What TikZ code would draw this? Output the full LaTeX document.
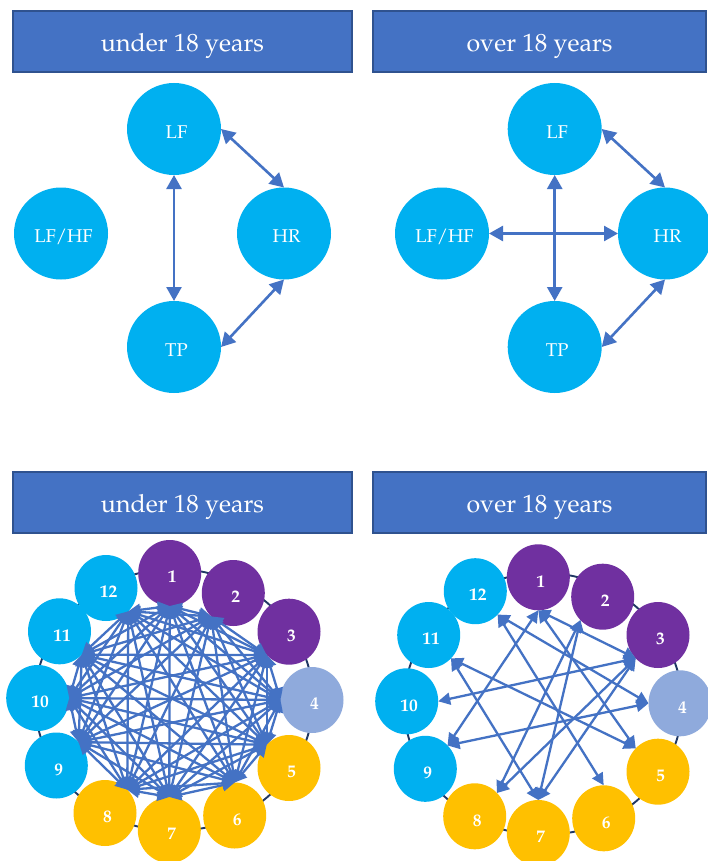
\documentclass[tikz,border=0pt]{standalone}
\usepackage[T1]{fontenc}
\usepackage{mathpazo}
\usetikzlibrary{arrows.meta,shapes.geometric}

\definecolor{hdrfill}{HTML}{4472C4}
\definecolor{hdrline}{HTML}{2F528F}
\definecolor{linkblue}{HTML}{4472C4}
\definecolor{cyanfill}{HTML}{00B0F0}
\definecolor{purplefill}{HTML}{7030A0}
\definecolor{goldfill}{HTML}{FFC000}
\definecolor{palefill}{HTML}{8FAADC}
\definecolor{ringline}{HTML}{203864}

\begin{document}
\begin{tikzpicture}[x=1pt,y=-1pt,
  header/.style={draw=hdrline, line width=2pt, fill=hdrfill, text=white,
    minimum height=61pt, inner sep=0pt, text height=20.4pt, text depth=0pt,
    font=\fontsize{25}{30}\selectfont},
  bignode/.style={ellipse, fill=cyanfill, minimum width=94pt, minimum height=92pt,
    inner sep=0pt, outer sep=0pt, text=white, text height=18.6pt, text depth=0pt,
    execute at begin node={\hspace*{5pt}},
    font=\fontsize{18.5}{22}\selectfont},
  bigarrow/.style={draw=linkblue, line width=2.6pt,
    {Triangle[length=14pt,width=15pt]}-{Triangle[length=14pt,width=15pt]}},
  ringnode/.style={ellipse, minimum width=63pt, minimum height=66pt,
    inner sep=0pt, outer sep=0pt, text=white, text height=19.4pt, text depth=0pt,
    execute at begin node={\hspace*{5pt}},
    font=\bfseries\fontsize{17.5}{21}\selectfont},
  ring/.style={draw=ringline, line width=1.9pt},
  smallarrow/.style={draw=linkblue, line width=2.3pt,
    {Triangle[length=12pt,width=12pt]}-{Triangle[length=12pt,width=12pt]}},
]
\useasboundingbox (0,0) rectangle (707,861);
\fill[white] (0,0) rectangle (707,861);

% ---- header bars ----
\node[header, minimum width=339pt] (hTL) at (182.5,41.5) {under 18 years};
\node[header, minimum width=333pt] (hTR) at (539.5,41.5) {over 18 years};
\node[header, minimum width=339pt] (hBL) at (182.5,502.5) {under 18 years};
\node[header, minimum width=333pt] (hBR) at (539.5,502.5) {over 18 years};

% ---- top left: four variables ----
\node[bignode] (aLF)   at (174,129)   {LF};
\node[bignode] (aHR)   at (284,233.5) {HR};
\node[bignode] (aTP)   at (174,347)   {TP};
\node[bignode] (aLFHF) at (61,233.5)  {LF/HF};
\draw[bigarrow] (aLF.south) -- (aTP.north);
\draw[bigarrow] (aLF.east) -- (aHR.north);
\draw[bigarrow] (aHR.south) -- (aTP.east);

% ---- top right: four variables ----
\node[bignode] (bLF)   at (554.7,129)   {LF};
\node[bignode] (bHR)   at (665,233.5)   {HR};
\node[bignode] (bTP)   at (554.7,347)   {TP};
\node[bignode] (bLFHF) at (442,233.5)   {LF/HF};
\draw[bigarrow] (bLF.south) -- (bTP.north);
\draw[bigarrow] (bLFHF.east) -- (bHR.west);
\draw[bigarrow] (bLF.east) -- (bHR.north);
\draw[bigarrow] (bHR.south) -- (bTP.east);

% ---- bottom left: twelve-node ring ----
\draw[ring] (174,700) ellipse [x radius=139pt, y radius=131pt];
\node[ringnode, fill=cyanfill]   (L12) at (106,588)     {12};
\node[ringnode, fill=purplefill] (L1)  at (169.7,573)   {1};
\node[ringnode, fill=purplefill] (L2)  at (233.3,593)   {2};
\node[ringnode, fill=purplefill] (L3)  at (289,631.7)   {3};
\node[ringnode, fill=palefill]   (L4)  at (312,700)     {4};
\node[ringnode, fill=goldfill]   (L5)  at (289,768)     {5};
\node[ringnode, fill=goldfill]   (L8)  at (105,813)     {8};
\node[ringnode, fill=goldfill]   (L6)  at (234.7,815.5) {6};
\node[ringnode, fill=goldfill]   (L7)  at (169.3,830)   {7};
\node[ringnode, fill=cyanfill]   (L9)  at (56.3,765.5)  {9};
\node[ringnode, fill=cyanfill]   (L10) at (37.7,698)    {10};
\node[ringnode, fill=cyanfill]   (L11) at (59.5,631.3)  {11};

\coordinate (La1)  at (L1.south);
\coordinate (La2)  at (L2.south west);
\coordinate (La3)  at (L3.south west);
\coordinate (La4)  at (L4.west);
\coordinate (La5)  at (L5.north west);
\coordinate (La6)  at (L6.north);
\coordinate (La7)  at (L7.north);
\coordinate (La8)  at (L8.north east);
\coordinate (La9)  at (L9.north east);
\coordinate (La10) at (L10.east);
\coordinate (La11) at (L11.south east);
\coordinate (La12) at (L12.south east);

% every pair of nodes is linked
\foreach \i in {1,...,11} {
  \pgfmathtruncatemacro\nxt{\i+1}
  \foreach \j in {\nxt,...,12} {
    \draw[smallarrow] (La\i) -- (La\j);
  }
}

% ---- bottom right: twelve-node ring ----
\draw[ring] (543,704) ellipse [x radius=139pt, y radius=131pt];
\node[ringnode, fill=cyanfill]   (R12) at (475.3,591.2) {12};
\node[ringnode, fill=purplefill] (R1)  at (538.3,577.3) {1};
\node[ringnode, fill=purplefill] (R2)  at (602.7,596.7) {2};
\node[ringnode, fill=purplefill] (R3)  at (658,635)     {3};
\node[ringnode, fill=palefill]   (R4)  at (680,703.3)   {4};
\node[ringnode, fill=goldfill]   (R5)  at (658,771.7)   {5};
\node[ringnode, fill=goldfill]   (R8)  at (474.7,816.3) {8};
\node[ringnode, fill=goldfill]   (R6)  at (603.7,818.3) {6};
\node[ringnode, fill=goldfill]   (R7)  at (538.3,833)   {7};
\node[ringnode, fill=cyanfill]   (R9)  at (425.3,768.8) {9};
\node[ringnode, fill=cyanfill]   (R10) at (406.7,701.3) {10};
\node[ringnode, fill=cyanfill]   (R11) at (428.7,635)   {11};

\coordinate (Ra1)  at (R1.south);
\coordinate (Ra2)  at (R2.south west);
\coordinate (Ra3)  at (R3.south west);
\coordinate (Ra4)  at (R4.west);
\coordinate (Ra5)  at (R5.north west);
\coordinate (Ra6)  at (R6.north);
\coordinate (Ra7)  at (R7.north);
\coordinate (Ra8)  at (R8.north east);
\coordinate (Ra9)  at (R9.north east);
\coordinate (Ra10) at (R10.east);
\coordinate (Ra11) at (R11.south east);
\coordinate (Ra12) at (R12.south east);

\foreach \i/\j in {1/9, 1/5, 1/3, 12/4, 12/6, 11/5, 11/7, 10/3, 9/4, 8/2, 8/3, 7/2, 7/3} {
  \draw[smallarrow] (Ra\i) -- (Ra\j);
}
\end{tikzpicture}
\end{document}
